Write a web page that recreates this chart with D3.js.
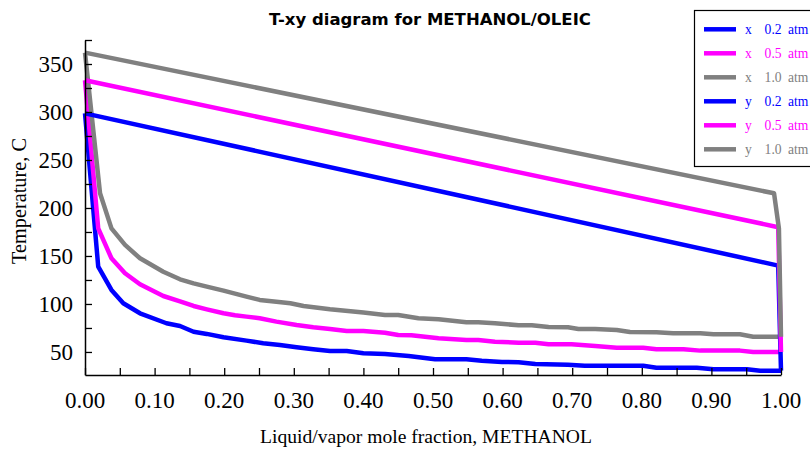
<!DOCTYPE html>
<html>
<head>
<meta charset="utf-8">
<script src="https://cdn.jsdelivr.net/npm/d3@7/dist/d3.min.js"></script>
<style>
  body { margin: 0; background: #fff; }
  svg { display: block; }
</style>
</head>
<body>
<svg id="chart" width="810" height="449"></svg>
<script>
// Bubble-point (liquid, x) curves: [mole fraction methanol, temperature C]
const liquid02 = [
  [0, 298.6], [0.019, 138.9], [0.038, 114.6], [0.055, 100.7], [0.079, 90.3],
  [0.117, 79.9], [0.1365, 77.1], [0.156, 71.1], [0.175, 68.8], [0.199, 65.3],
  [0.232, 61.8], [0.256, 59.1], [0.28, 57.3], [0.304, 54.9], [0.328, 52.8],
  [0.352, 51.0], [0.376, 51.0], [0.4, 48.6], [0.431, 47.9], [0.465, 45.8],
  [0.503, 42.4], [0.548, 42.4], [0.57, 40.9], [0.599, 39.6], [0.623, 39.3],
  [0.647, 37.5], [0.694, 36.8], [0.718, 35.7], [0.759, 35.7], [0.802, 35.7],
  [0.821, 33.6], [0.879, 33.6], [0.903, 32.0], [0.951, 32.0], [0.97, 30.5],
  [1.0, 30.5]
];
const liquid05 = [
  [0, 333.0], [0.019, 178.8], [0.038, 147.6], [0.0575, 132.0], [0.079, 120.5],
  [0.1125, 108.3], [0.1365, 102.8], [0.156, 97.9], [0.175, 94.4], [0.199, 90.3],
  [0.2155, 88.2], [0.232, 86.8], [0.251, 85.1], [0.275, 81.6], [0.304, 78.1],
  [0.328, 75.7], [0.352, 74.0], [0.376, 71.9], [0.4, 71.9], [0.431, 70.1],
  [0.45, 67.7], [0.469, 67.4], [0.508, 64.3], [0.548, 62.5], [0.565, 62.5],
  [0.589, 60.7], [0.623, 59.7], [0.647, 59.7], [0.666, 58.0], [0.699, 58.0],
  [0.733, 56.3], [0.764, 54.5], [0.802, 54.5], [0.821, 52.8], [0.86, 52.8],
  [0.884, 51.4], [0.941, 51.4], [0.96, 50.0], [1.0, 50.0]
];
const liquid10 = [
  [0, 361.8], [0.0216, 215.3], [0.038, 178.8], [0.0575, 161.5], [0.079, 147.6],
  [0.1125, 133.6], [0.1365, 125.7], [0.156, 121.5], [0.175, 118.0], [0.199, 113.9],
  [0.232, 107.6], [0.251, 104.2], [0.275, 102.4], [0.295, 100.7], [0.314, 97.9],
  [0.352, 94.5], [0.4, 91.0], [0.431, 88.5], [0.45, 88.5], [0.479, 85.1],
  [0.508, 84.0], [0.548, 80.9], [0.565, 80.9], [0.589, 79.9], [0.623, 77.8],
  [0.642, 77.8], [0.666, 76.0], [0.694, 75.7], [0.709, 74.0], [0.733, 74.0],
  [0.764, 72.9], [0.783, 70.8], [0.821, 70.5], [0.845, 69.5], [0.884, 69.5],
  [0.903, 68.4], [0.941, 68.4], [0.96, 65.9], [1.0, 65.9]
];

// Dew-point (vapor, y) curves
const vapor02 = [[0, 298.6], [0.996, 140.0], [1.0, 30.5]];
const vapor05 = [[0, 333.0], [0.996, 180.0], [1.0, 50.0]];
const vapor10 = [[0, 361.8], [0.99, 215.3], [0.997, 178.8], [1.0, 65.9]];

const seriesLabels = ["x  0.2 atm", "x  0.5 atm", "x  1.0 atm", "y  0.2 atm", "y  0.5 atm", "y  1.0 atm"];
const seriesColors = ["#0000ff", "#ff00ff", "#808080", "#0000ff", "#ff00ff", "#808080"];
const seriesData = [liquid02, liquid05, liquid10, vapor02, vapor05, vapor10];

const xMajorTicks = [0, 0.1, 0.2, 0.3, 0.4, 0.5, 0.6, 0.7, 0.8, 0.9, 1.0];
const xMinorTicks = [0, 0.05, 0.1, 0.15, 0.2, 0.25, 0.3, 0.35, 0.4, 0.45, 0.5,
                     0.55, 0.6, 0.65, 0.7, 0.75, 0.8, 0.85, 0.9, 0.95, 1.0];
const yLabelTicks = [50, 100, 150, 200, 250, 300, 350];
const yMinorTicks = [50, 75, 100, 125, 150, 175, 200, 225, 250, 275, 300, 325, 350, 375];

const titleText = "T-xy diagram for METHANOL/OLEIC";
const xAxisTitle = "Liquid/vapor mole fraction, METHANOL";
const yAxisTitle = "Temperature, C";

const svg = d3.select("#chart");
const serif = "'Liberation Serif', 'Times New Roman', serif";

const x = d3.scaleLinear().domain([0, 1]).range([85, 781]);
const y = d3.scaleLinear().domain([26, 375]).range([375, 40]);

// Title
svg.append("text")
  .attr("x", 430).attr("y", 25)
  .attr("text-anchor", "middle")
  .attr("font-family", "'DejaVu Sans', Verdana, sans-serif")
  .attr("font-weight", "bold")
  .attr("font-size", 16.5)
  .attr("fill", "#000")
  .text(titleText);

// Curves
const line = d3.line().x(d => x(d[0])).y(d => y(d[1]));
svg.append("g").selectAll("path")
  .data(seriesData)
  .join("path")
  .attr("d", line)
  .attr("fill", "none")
  .attr("stroke", (d, i) => seriesColors[i])
  .attr("stroke-width", 4.5)
  .attr("stroke-linejoin", "round");

// Bottom axis: inward ticks every 0.05, labels every 0.1
const xAxisG = svg.append("g").attr("transform", `translate(0,${y.range()[0]})`);
xAxisG.call(d3.axisBottom(x).tickValues(xMinorTicks).tickSizeInner(-7).tickSizeOuter(0).tickFormat(""));
xAxisG.selectAll(".tick line").attr("stroke", "#000").attr("stroke-width", 1.3);
xAxisG.select(".domain").attr("stroke", "#000").attr("stroke-width", 1.5);
xAxisG.selectAll(".tick text").remove();
xAxisG.selectAll("text.xlab")
  .data(xMajorTicks)
  .join("text")
  .attr("class", "xlab")
  .attr("x", d => x(d))
  .attr("y", 33)
  .attr("text-anchor", "middle")
  .attr("font-family", serif)
  .attr("font-size", 23)
  .attr("fill", "#000")
  .text(d => d3.format(".2f")(d));

// Left axis: inward ticks every 25
const yAxisG = svg.append("g").attr("transform", `translate(${x.range()[0]},0)`);
yAxisG.call(d3.axisLeft(y).tickValues(yMinorTicks).tickSizeInner(-7).tickSizeOuter(0).tickFormat(""));
yAxisG.selectAll(".tick line").attr("stroke", "#000").attr("stroke-width", 1.3);
yAxisG.select(".domain").attr("stroke", "#000").attr("stroke-width", 1.5);
yAxisG.selectAll(".tick text").remove();
yAxisG.selectAll("text.ylab")
  .data(yLabelTicks)
  .join("text")
  .attr("class", "ylab")
  .attr("x", -12)
  .attr("y", d => y(d))
  .attr("dy", "0.34em")
  .attr("text-anchor", "end")
  .attr("font-family", serif)
  .attr("font-size", 23)
  .attr("fill", "#000")
  .text(d => d);

// Axis titles
svg.append("text")
  .attr("x", 426).attr("y", 443)
  .attr("text-anchor", "middle")
  .attr("font-family", serif)
  .attr("font-size", 19.6)
  .attr("fill", "#000")
  .text(xAxisTitle);

svg.append("text")
  .attr("transform", "translate(26,201) rotate(-90)")
  .attr("text-anchor", "middle")
  .attr("font-family", serif)
  .attr("font-size", 20.3)
  .attr("fill", "#000")
  .text(yAxisTitle);

// Legend
const legend = svg.append("g");
legend.append("rect")
  .attr("x", 694.5).attr("y", 10.5)
  .attr("width", 130).attr("height", 156)
  .attr("fill", "#fff")
  .attr("stroke", "#000")
  .attr("stroke-width", 1.2);

const legendRows = legend.selectAll("g.row")
  .data(seriesLabels)
  .join("g")
  .attr("class", "row")
  .attr("transform", (d, i) => `translate(0,${29.3 + i * 24})`);
legendRows.append("line")
  .attr("x1", 704).attr("x2", 736)
  .attr("y1", 0).attr("y2", 0)
  .attr("stroke", (d, i) => seriesColors[i])
  .attr("stroke-width", 4.5);
legendRows.append("text")
  .attr("x", 745).attr("y", 5)
  .attr("font-family", serif)
  .attr("font-size", 13.6)
  .attr("fill", (d, i) => seriesColors[i])
  .style("white-space", "pre")
  .style("word-spacing", "3px")
  .text(d => d);
</script>
</body>
</html>
